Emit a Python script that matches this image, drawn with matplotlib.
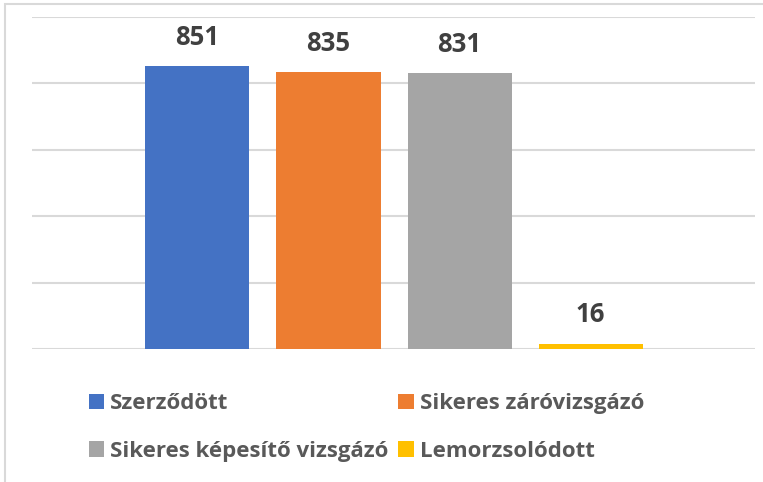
import matplotlib
matplotlib.use("Agg")
import matplotlib.pyplot as plt
from matplotlib.patches import Rectangle

plt.rcParams['font.family'] = ['Open Sans', 'DejaVu Sans']

categories = ["Szerződött", "Sikeres záróvizsgázó", "Sikeres képesítő vizsgázó", "Lemorzsolódott"]
values = [851, 835, 831, 16]
colors = ["#4472C4", "#ED7D31", "#A5A5A5", "#FFC000"]

fig = plt.figure(figsize=(7.63, 4.82), dpi=100)
ax = fig.add_axes([32 / 763, 1 - 349 / 482, 723 / 763, 332 / 482])

# outer chart frame (only top and left edges are visible in the crop)
fig.patches.append(Rectangle((5 / 763, -0.05), 1.1, 1 - 4 / 482 + 0.05,
                             transform=fig.transFigure, fill=False,
                             edgecolor="#d9d9d9", linewidth=1.5))

bars = []
for i, (cat, val, col) in enumerate(zip(categories, values, colors)):
    b = ax.bar(i, val, width=104 / 131, color=col, label=cat, zorder=3)
    ax.bar_label(b, padding=11, fontsize=18.5, fontweight="bold", color="#404040")
    bars.append(b)

ax.set_xlim(-1.26, 4.252)
ax.set_ylim(0, 1000)
ax.set_yticks(range(0, 1001, 200))
ax.yaxis.grid(True, color="#d9d9d9", linewidth=1.5, zorder=0)
ax.tick_params(left=False, bottom=False, labelleft=False, labelbottom=False)
for s in ax.spines.values():
    s.set_visible(False)

order = [0, 2, 1, 3]
leg = fig.legend([bars[i] for i in order], [categories[i] for i in order],
                 ncol=2, loc="upper left", bbox_to_anchor=(89 / 763, 1 - 393 / 482),
                 frameon=False, fontsize=16, handlelength=0.68, handleheight=0.68,
                 handletextpad=0.27, columnspacing=0.45, labelspacing=1.2,
                 borderaxespad=0, borderpad=0)
for t in leg.get_texts():
    t.set_color("#595959")
    t.set_fontweight("bold")

fig.savefig("out.png", dpi=100)
